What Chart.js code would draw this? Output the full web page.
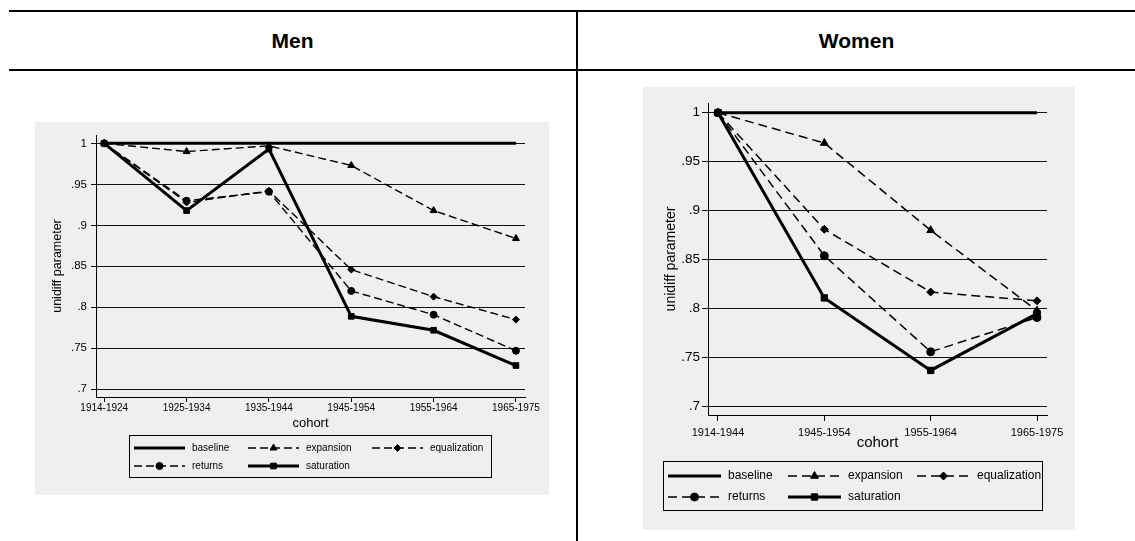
<!DOCTYPE html>
<html>
<head>
<meta charset="utf-8">
<script src="https://cdn.jsdelivr.net/npm/chart.js@4.4.0/dist/chart.umd.min.js"></script>
<style>
  body { margin: 0; width: 1135px; height: 541px; background: #fff; position: relative; overflow: hidden;
         font-family: Arial, "Liberation Sans", sans-serif; }
  .rule { position: absolute; left: 9px; right: 0; height: 2px; background: #000; }
  .divider { position: absolute; left: 576px; top: 10px; bottom: 0; width: 2px; background: #000; }
  .head { position: absolute; top: 12px; height: 58px; line-height: 58px; text-align: center;
          font-weight: bold; font-size: 21px; color: #000; }
  .panel { position: absolute; background: #efefef; }
  .panel canvas { display: block; }
</style>
</head>
<body>
<div class="rule" style="top:10px"></div>
<div class="rule" style="top:69px"></div>
<div class="divider"></div>
<div class="head" style="left:9px;width:567px">Men</div>
<div class="head" style="left:578px;width:557px">Women</div>

<div class="panel" style="left:35px;top:122px;width:514px;height:373px">
  <canvas id="men" width="514" height="373"></canvas>
</div>
<div class="panel" style="left:643px;top:87px;width:432px;height:443px">
  <canvas id="women" width="432" height="443"></canvas>
</div>

<script>
// unidiff parameter by birth cohort, one row per scenario
const menCohorts = ['1914-1924', '1925-1934', '1935-1944', '1945-1954', '1955-1964', '1965-1975'];
const menBaseline = [1, 1, 1, 1, 1, 1];
const menExpansion = [1, 0.990, 0.997, 0.973, 0.918, 0.884];
const menEqualization = [1, 0.928, 0.942, 0.846, 0.813, 0.785];
const menReturns = [1, 0.930, 0.941, 0.820, 0.791, 0.747];
const menSaturation = [1, 0.918, 0.993, 0.789, 0.772, 0.729];

const womenCohorts = ['1914-1944', '1945-1954', '1955-1964', '1965-1975'];
const womenBaseline = [1, 1, 1, 1];
const womenExpansion = [1, 0.969, 0.880, 0.798];
const womenEqualization = [1, 0.881, 0.817, 0.808];
const womenReturns = [1, 0.854, 0.756, 0.791];
const womenSaturation = [1, 0.811, 0.737, 0.795];

const yTicks = [0.7, 0.75, 0.8, 0.85, 0.9, 0.95, 1];

const FONT = 'Arial, "Liberation Sans", sans-serif';
Chart.defaults.font.family = FONT;
Chart.defaults.color = '#000';

// legend drawn as a framed box below the axis, line + marker + label per entry
const boxedLegend = {
  id: 'boxedLegend',
  afterDraw(chart, args, opts) {
    const ctx = chart.ctx;
    ctx.save();
    ctx.strokeStyle = '#000';
    ctx.lineWidth = 1;
    ctx.setLineDash([]);
    ctx.strokeRect(opts.x + 0.5, opts.y + 0.5, opts.w, opts.h);
    ctx.font = opts.fontSize + 'px ' + FONT;
    ctx.textBaseline = 'middle';
    ctx.textAlign = 'left';
    chart.data.datasets.forEach((ds, i) => {
      const x0 = opts.cols[i % 3];
      const y = opts.rows[Math.floor(i / 3)];
      ctx.save();
      ctx.strokeStyle = '#000';
      ctx.lineWidth = ds.borderWidth;
      ctx.setLineDash(ds.borderDash || []);
      ctx.beginPath();
      ctx.moveTo(x0, y);
      ctx.lineTo(x0 + opts.lineLen, y);
      ctx.stroke();
      ctx.restore();
      if (ds.pointRadius > 0) {
        ctx.fillStyle = '#000';
        ctx.strokeStyle = '#000';
        ctx.lineWidth = 1;
        ctx.setLineDash([]);
        Chart.helpers.drawPoint(ctx, { pointStyle: ds.pointStyle, radius: ds.pointRadius, borderWidth: 1 },
          x0 + opts.lineLen / 2, y);
      }
      ctx.fillStyle = '#000';
      ctx.fillText(ds.label, x0 + opts.textGap, y);
    });
    ctx.restore();
  }
};

function seriesSet(values, s) {
  const pts = v => v.map((y, i) => ({ x: i, y }));
  const dashed = { borderWidth: s.dashWidth, borderDash: s.dash, pointRadius: s.marker };
  return [
    { label: 'baseline', data: pts(values[0]), borderWidth: 3, pointRadius: 0 },
    { label: 'expansion', data: pts(values[1]), ...dashed, pointStyle: 'triangle', pointRadius: s.marker + 0.5 },
    { label: 'equalization', data: pts(values[2]), ...dashed, pointStyle: 'rectRot' },
    { label: 'returns', data: pts(values[3]), ...dashed, pointStyle: 'circle' },
    { label: 'saturation', data: pts(values[4]), borderWidth: 3, pointStyle: 'rect', pointRadius: s.marker + 0.5 }
  ].map(d => Object.assign({
    borderColor: '#000', backgroundColor: '#000', pointBackgroundColor: '#000',
    pointBorderColor: '#000', pointBorderWidth: 1, tension: 0, fill: false
  }, d));
}

function drawPanel(id, cohorts, values, s) {
  const yLabel = v => v === 1 ? '1' : String(+v.toFixed(2)).replace(/^0/, '');
  new Chart(document.getElementById(id), {
    type: 'line',
    data: { datasets: seriesSet(values, s) },
    plugins: [boxedLegend],
    options: {
      responsive: false,
      animation: false,
      events: [],
      layout: { padding: s.padding },
      plugins: {
        legend: { display: false },
        tooltip: { enabled: false },
        boxedLegend: s.legend
      },
      scales: {
        x: {
          type: 'linear',
          min: s.xMin,
          max: cohorts.length - 1 + s.xMax,
          afterBuildTicks: sc => { sc.ticks = cohorts.map((_, i) => ({ value: i })); },
          afterFit: sc => { sc.height = s.xHeight; sc.paddingLeft = 0; sc.paddingRight = 0; },
          ticks: { callback: v => cohorts[v], autoSkip: false, maxRotation: 0,
                   font: { size: s.xFont }, padding: s.xPad, color: '#000' },
          grid: { drawOnChartArea: false, drawTicks: true, tickLength: s.tick, color: '#000' },
          border: { color: '#000', width: 1 },
          title: { display: true, text: 'cohort', font: { size: s.titleFont }, padding: 0, color: '#000' }
        },
        y: {
          min: s.yMin,
          max: s.yMax,
          afterBuildTicks: sc => { sc.ticks = yTicks.map(v => ({ value: v })); },
          afterFit: sc => { sc.width = s.yWidth; sc.paddingTop = 0; sc.paddingBottom = 0; },
          ticks: { callback: yLabel, font: { size: s.yFont }, padding: s.yPad, color: '#000' },
          grid: { color: '#111', lineWidth: 1, tickLength: s.tick },
          border: { color: '#000', width: 1 },
          title: { display: true, text: 'unidiff parameter', font: { size: s.yTitleFont },
                   padding: { top: s.yTitlePad, bottom: 0 }, color: '#000' }
        }
      }
    }
  });
}

drawPanel('men', menCohorts,
  [menBaseline, menExpansion, menEqualization, menReturns, menSaturation], {
    padding: { left: 0, right: 24, top: 13, bottom: 64 },
    xMin: -0.1, xMax: 0.11, yMin: 0.6906, yMax: 1.0102,
    xHeight: 34, yWidth: 61, tick: 5, xPad: 0, yPad: 4,
    xFont: 10, yFont: 11.5, titleFont: 13, yTitleFont: 12.5, yTitlePad: 15,
    dash: [8, 4], dashWidth: 1.4, marker: 3.5,
    legend: { x: 94, y: 313, w: 362, h: 42, rows: [326, 344], cols: [99, 213, 337],
              lineLen: 51, textGap: 58, fontSize: 10 }
  });

drawPanel('women', womenCohorts,
  [womenBaseline, womenExpansion, womenEqualization, womenReturns, womenSaturation], {
    padding: { left: 0, right: 28, top: 16, bottom: 78 },
    xMin: -0.094, xMax: 0.094, yMin: 0.6915, yMax: 1.0099,
    xHeight: 37, yWidth: 65, tick: 6, xPad: 5, yPad: 2,
    xFont: 11, yFont: 13.5, titleFont: 15, yTitleFont: 14, yTitlePad: 20,
    dash: [9, 5], dashWidth: 1.5, marker: 4,
    legend: { x: 20, y: 374, w: 379, h: 49, rows: [389, 410], cols: [25, 145, 274],
              lineLen: 53, textGap: 60, fontSize: 12 }
  });
</script>
</body>
</html>
